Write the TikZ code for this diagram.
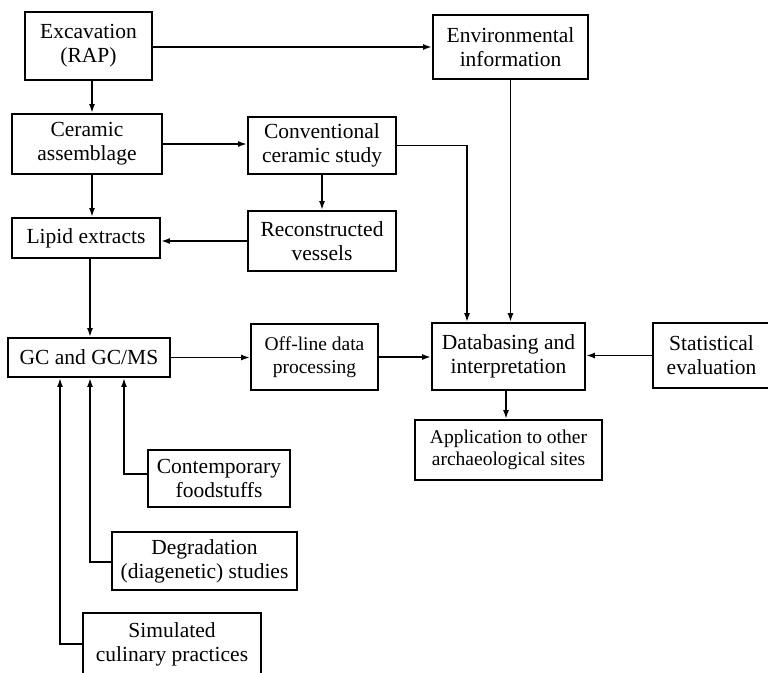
\documentclass[tikz,border=0pt]{standalone}
\usepackage{fontspec}
\setmainfont{Liberation Serif}
\usetikzlibrary{arrows.meta}
\begin{document}
\begin{tikzpicture}[x=1pt,y=-1pt,
  box/.style={draw, line width=1.8pt, inner sep=0pt, align=center,
    font=\fontsize{21.5}{24}\selectfont},
  smallbox/.style={box, font=\fontsize{19.5}{22.5}\selectfont},
  arr/.style={line width=1.8pt, -{Latex[length=9pt,width=6pt]}}]
\useasboundingbox (0,0) rectangle (768,672);
% boxes
\node[box, minimum width=127, minimum height=68] (exc) at (88.5,46) {Excavation\\(RAP)};
\node[box, minimum width=155, minimum height=64] (env) at (510.5,47) {Environmental\\information};
\node[box, minimum width=150, minimum height=60] (cer) at (87,144) {Ceramic\\assemblage};
\node[box, minimum width=148, minimum height=57] (con) at (322,145.5) {Conventional\\ceramic study};
\node[box, minimum width=148, minimum height=60] (rec) at (322,241) {Reconstructed\\vessels};
\node[box, minimum width=148, minimum height=40] (lip) at (86,238) {Lipid extracts};
\node[box, minimum width=162, minimum height=39] (gc) at (89,357.5) {GC and GC/MS};
\node[smallbox, minimum width=127, minimum height=66] (off) at (314.5,357) {Off-line data\\processing};
\node[box, minimum width=153, minimum height=67] (db) at (508.5,356.5) {Databasing and\\interpretation};
\node[box, minimum width=117, minimum height=65] (stat) at (711.5,355.5) {Statistical\\evaluation};
\node[smallbox, minimum width=187, minimum height=60] (app) at (508.5,450) {Application to other\\archaeological sites};
\node[box, minimum width=142, minimum height=57] (cont) at (219,478.5) {Contemporary\\foodstuffs};
\node[box, minimum width=185, minimum height=58] (deg) at (204.5,561) {Degradation\\(diagenetic) studies};
\node[box, minimum width=178, minimum height=62] (sim) at (172,644) {Simulated\\culinary practices};
% connectors
\draw[arr] (env.west -| exc.east) -- (env.west);
\draw[arr] ([xshift=3.5]exc.south) -- ([xshift=3.5]exc.south |- cer.north);
\draw[arr] (cer.east) -- (cer.east -| con.west);
\draw[arr] (con.east) -| ([xshift=-41.5]db.north);
\draw[arr] (env.south) -- (env.south |- db.north);
\draw[arr] (con.south) -- (rec.north);
\draw[arr] (rec.west) -- (rec.west -| lip.east);
\draw[arr] ([xshift=5]cer.south) -- ([xshift=5]cer.south |- lip.north);
\draw[arr] ([xshift=4]lip.south) -- ([xshift=4]lip.south |- gc.north);
\draw[arr] (gc.east) -- (gc.east -| off.west);
\draw[arr] (off.east) -- (off.east -| db.west);
\draw[arr] (stat.west) -- (stat.west -| db.east);
\draw[arr] ([xshift=-2.5]db.south) -- ([xshift=-2.5]db.south |- app.north);
\draw[arr] ([yshift=4.5]cont.west) -| ([xshift=35]gc.south);
\draw[arr] ([yshift=-1]deg.west) -| ([xshift=1]gc.south);
\draw[arr] (sim.west) -| ([xshift=-29]gc.south);
\end{tikzpicture}
\end{document}
